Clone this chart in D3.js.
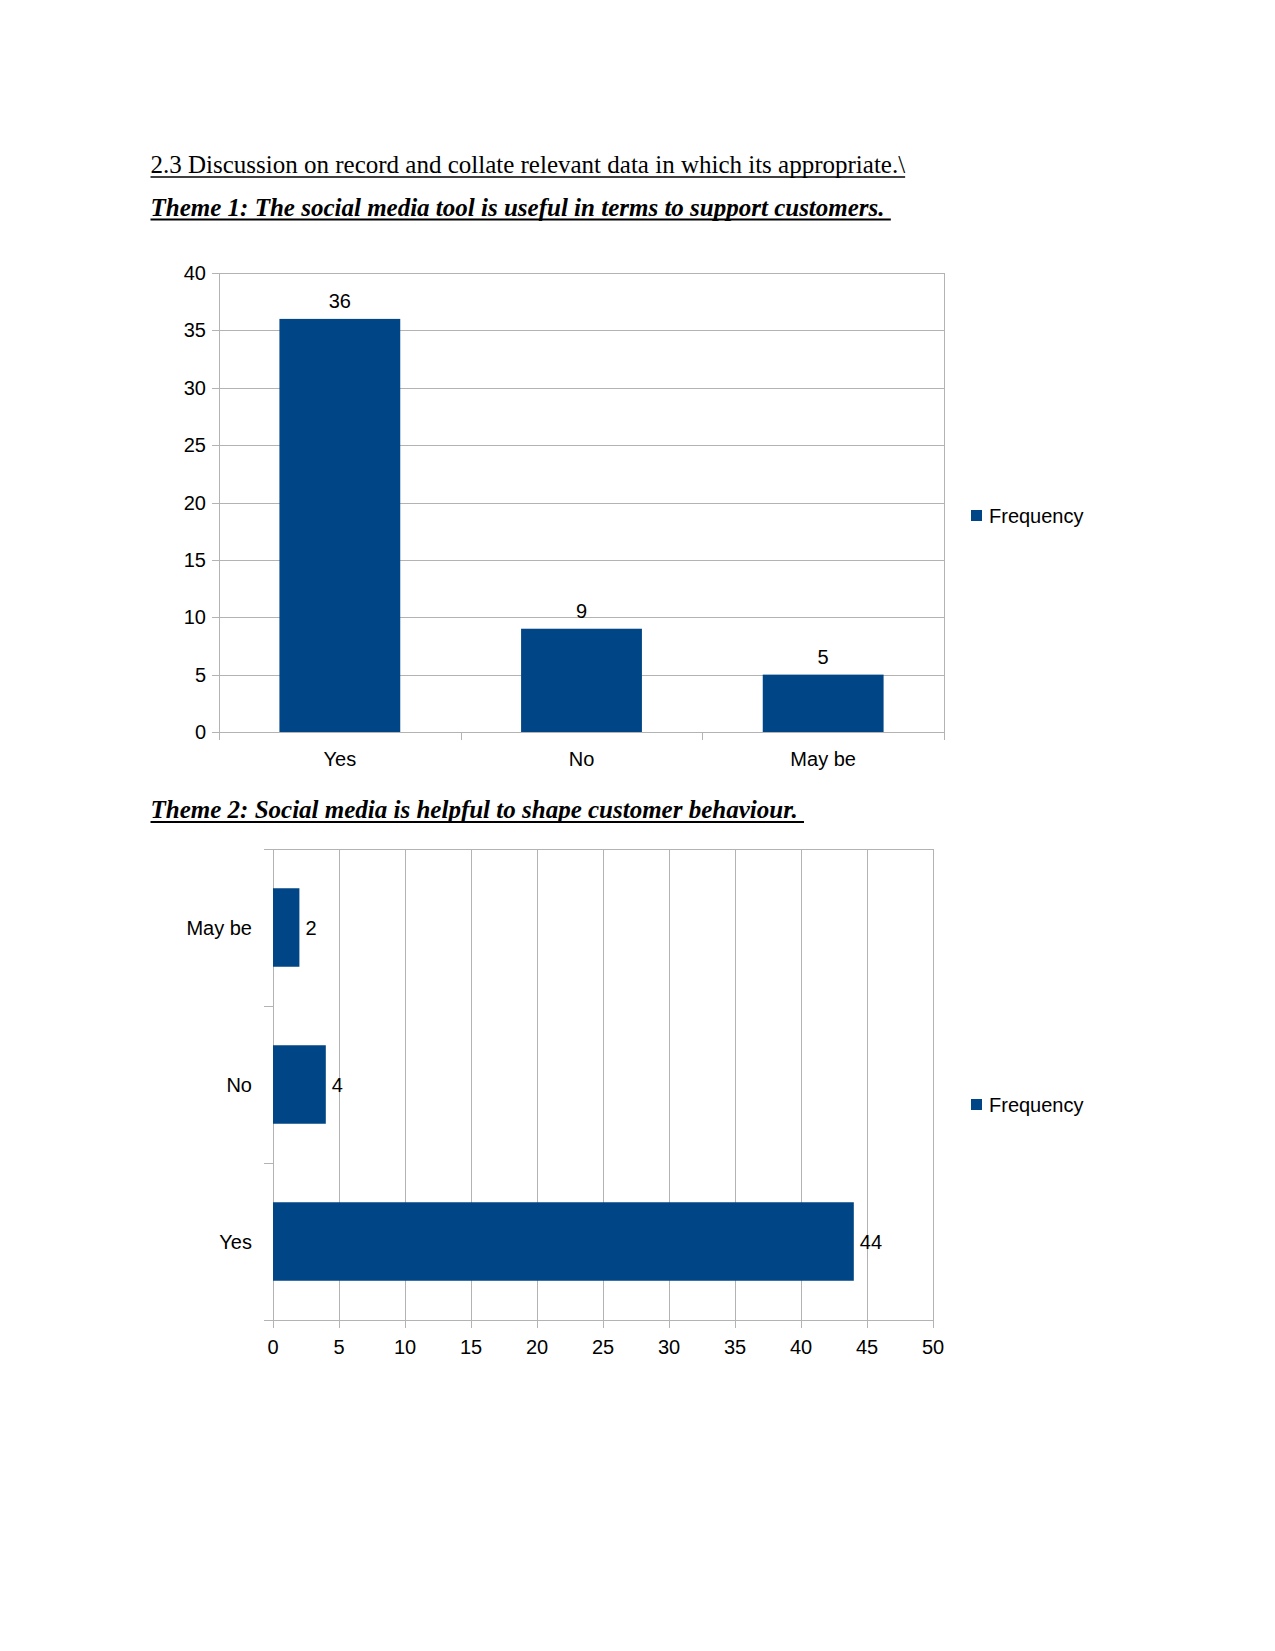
<!DOCTYPE html>
<html>
<head>
<meta charset="utf-8">
<script src="https://cdn.jsdelivr.net/npm/d3@7"></script>
<style>
  html, body { margin: 0; padding: 0; background: #fff; }
  svg { display: block; }
</style>
</head>
<body>
<script>
// ---------- data ----------
const headingMain = "2.3 Discussion on record and collate relevant data in which its appropriate.\\";
const theme1Title = "Theme 1: The social media tool is useful in terms to support customers. ";
const theme2Title = "Theme 2: Social media is helpful to shape customer behaviour. ";

const chart1Categories = ["Yes", "No", "May be"];
const chart1Values = [36, 9, 5];
const chart1Ticks = [0, 5, 10, 15, 20, 25, 30, 35, 40];

const chart2Categories = ["May be", "No", "Yes"];
const chart2Values = [2, 4, 44];
const chart2Ticks = [0, 5, 10, 15, 20, 25, 30, 35, 40, 45, 50];

const seriesName = "Frequency";

// ---------- styles ----------
const W = 1275, H = 1651;
const barColor = "#004586";
const gridColor = "#b3b3b3";
const chartFont = "'Liberation Sans', Arial, sans-serif";
const serifFont = "'Liberation Serif', 'Times New Roman', serif";
const fs = 20;

const svg = d3.select("body").append("svg").attr("width", W).attr("height", H);

// ---------- headings ----------
function heading(txt, x, y, bold) {
  const t = svg.append("text")
    .attr("x", x).attr("y", y)
    .attr("xml:space", "preserve")
    .style("white-space", "pre")
    .attr("font-family", serifFont)
    .attr("font-size", 25)
    .attr("font-weight", bold ? "bold" : "normal")
    .attr("font-style", bold ? "italic" : "normal")
    .attr("fill", "#000")
    .text(txt);
  const w = t.node().getComputedTextLength();
  svg.append("line")
    .attr("x1", x).attr("x2", x + w)
    .attr("y1", y + 4).attr("y2", y + 4)
    .attr("stroke", "#000").attr("stroke-width", bold ? 1.8 : 1.3);
}
heading(headingMain, 150.5, 173, false);
heading(theme1Title, 150.5, 215.5, true);
heading(theme2Title, 150.5, 818, true);

// ---------- chart 1 (vertical bars) ----------
{
  const x0 = 219, x1 = 944, yT = 273, yB = 732;
  const x = d3.scaleBand().domain(chart1Categories).range([x0, x1]).paddingInner(0.5).paddingOuter(0.25);
  const xb = d3.scaleBand().domain(chart1Categories).range([x0, x1]);
  const y = d3.scaleLinear().domain([0, 40]).range([yB, yT]);
  const g = svg.append("g");

  g.selectAll("line.grid").data(chart1Ticks).join("line")
    .attr("x1", x0 - 7).attr("x2", x1)
    .attr("y1", d => Math.round(y(d)) + 0.5).attr("y2", d => Math.round(y(d)) + 0.5)
    .attr("stroke", gridColor).attr("stroke-width", 1);
  g.append("line").attr("x1", x0 + 0.5).attr("x2", x0 + 0.5).attr("y1", yT).attr("y2", yB + 8)
    .attr("stroke", gridColor);
  const bounds = chart1Categories.map(c => xb(c)).concat([x1]);
  g.selectAll("line.ctick").data(bounds).join("line")
    .attr("x1", d => Math.round(d) + 0.5).attr("x2", d => Math.round(d) + 0.5)
    .attr("y1", d => d === x1 ? yT : yB).attr("y2", yB + 8)
    .attr("stroke", gridColor);

  g.selectAll("text.yl").data(chart1Ticks).join("text")
    .attr("x", 206).attr("y", d => y(d)).attr("dy", "0.35em")
    .attr("text-anchor", "end")
    .attr("font-family", chartFont).attr("font-size", fs).attr("fill", "#000")
    .text(d => d);

  g.selectAll("rect.bar").data(chart1Values).join("rect")
    .attr("x", (d, i) => x(chart1Categories[i]))
    .attr("width", x.bandwidth())
    .attr("y", d => y(d)).attr("height", d => yB - y(d))
    .attr("fill", barColor);

  g.selectAll("text.vl").data(chart1Values).join("text")
    .attr("x", (d, i) => x(chart1Categories[i]) + x.bandwidth() / 2)
    .attr("y", d => y(d) - 11)
    .attr("text-anchor", "middle")
    .attr("font-family", chartFont).attr("font-size", fs).attr("fill", "#000")
    .text(d => d);

  g.selectAll("text.cl").data(chart1Categories).join("text")
    .attr("x", d => xb(d) + xb.bandwidth() / 2)
    .attr("y", 759).attr("dy", "0.35em")
    .attr("text-anchor", "middle")
    .attr("font-family", chartFont).attr("font-size", fs).attr("fill", "#000")
    .text(d => d);

  g.append("rect").attr("x", 971).attr("y", 510).attr("width", 11).attr("height", 11).attr("fill", barColor);
  g.append("text").attr("x", 989).attr("y", 516).attr("dy", "0.35em")
    .attr("font-family", chartFont).attr("font-size", fs).attr("fill", "#000").text(seriesName);
}

// ---------- chart 2 (horizontal bars) ----------
{
  const x0 = 273, x1 = 933, yT = 849, yB = 1320;
  const x = d3.scaleLinear().domain([0, 50]).range([x0, x1]);
  const y = d3.scaleBand().domain(chart2Categories).range([yT, yB]).paddingInner(0.5).paddingOuter(0.25);
  const yb = d3.scaleBand().domain(chart2Categories).range([yT, yB]);
  const g = svg.append("g");

  g.selectAll("line.grid").data(chart2Ticks).join("line")
    .attr("x1", d => Math.round(x(d)) + 0.5).attr("x2", d => Math.round(x(d)) + 0.5)
    .attr("y1", yT).attr("y2", yB + 8)
    .attr("stroke", gridColor);
  g.append("line").attr("x1", x0 - 9).attr("x2", x1).attr("y1", yT + 0.5).attr("y2", yT + 0.5).attr("stroke", gridColor);
  g.append("line").attr("x1", x0 - 9).attr("x2", x1).attr("y1", yB + 0.5).attr("y2", yB + 0.5).attr("stroke", gridColor);
  const bounds = chart2Categories.map(c => yb(c)).slice(1);
  g.selectAll("line.ctick").data(bounds).join("line")
    .attr("x1", x0 - 9).attr("x2", x0)
    .attr("y1", d => Math.round(d) + 0.5).attr("y2", d => Math.round(d) + 0.5)
    .attr("stroke", gridColor);

  g.selectAll("text.xl").data(chart2Ticks).join("text")
    .attr("x", d => x(d)).attr("y", 1347).attr("dy", "0.35em")
    .attr("text-anchor", "middle")
    .attr("font-family", chartFont).attr("font-size", fs).attr("fill", "#000")
    .text(d => d);

  g.selectAll("rect.bar").data(chart2Values).join("rect")
    .attr("x", x0)
    .attr("y", (d, i) => y(chart2Categories[i]))
    .attr("height", y.bandwidth())
    .attr("width", d => x(d) - x0)
    .attr("fill", barColor);

  g.selectAll("text.vl").data(chart2Values).join("text")
    .attr("x", d => x(d) + 6)
    .attr("y", (d, i) => y(chart2Categories[i]) + y.bandwidth() / 2).attr("dy", "0.35em")
    .attr("font-family", chartFont).attr("font-size", fs).attr("fill", "#000")
    .text(d => d);

  g.selectAll("text.cl").data(chart2Categories).join("text")
    .attr("x", 252)
    .attr("y", d => yb(d) + yb.bandwidth() / 2).attr("dy", "0.35em")
    .attr("text-anchor", "end")
    .attr("font-family", chartFont).attr("font-size", fs).attr("fill", "#000")
    .text(d => d);

  g.append("rect").attr("x", 971).attr("y", 1099).attr("width", 11).attr("height", 11).attr("fill", barColor);
  g.append("text").attr("x", 989).attr("y", 1104.5).attr("dy", "0.35em")
    .attr("font-family", chartFont).attr("font-size", fs).attr("fill", "#000").text(seriesName);
}
</script>
</body>
</html>
